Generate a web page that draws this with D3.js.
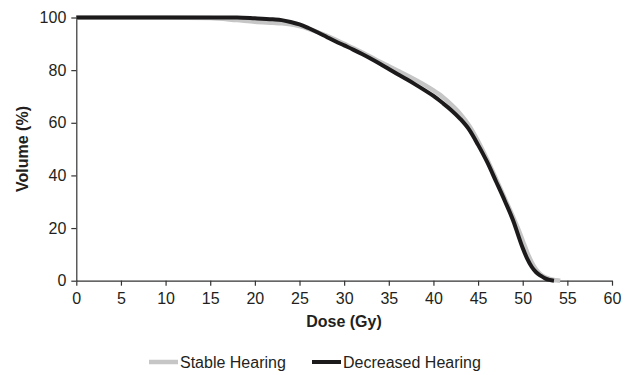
<!DOCTYPE html>
<html><head><meta charset="utf-8">
<script src="https://cdn.jsdelivr.net/npm/d3@7"></script>
<style>body{margin:0;background:#fff}svg{display:block}text{font-family:"Liberation Sans",Arial,sans-serif;fill:#231f20}</style>
</head><body>
<svg id="c" width="628" height="375"></svg>
<script>
const xTicks = [0,5,10,15,20,25,30,35,40,45,50,55,60];
const yTicks = [0,20,40,60,80,100];
const seriesNames = ["Stable Hearing","Decreased Hearing"];
const stableDose = [0,5,10,15,18,20,22,23,24,25,26,27,28,29,30,31,32,33,34,35,36,37,38,39,40,41,42,43,44,45,46,47,48,49,49.5,50,50.5,51,51.5,52,52.5,53,53.5,54,54.2];
const stableVol  = [100,100,100,99.8,99,98.4,98,97.8,97.4,96.7,95.7,94.5,93.1,91.6,90,88.4,86.7,85,83.2,81.5,79.8,78.1,76.3,74.4,72.3,69.9,66.9,63.4,58.9,53,46.2,38.8,31.2,23.6,19.6,15.2,10.8,7,4.2,2.4,1.3,0.7,0.3,0.1,0];
const decDose = [0,5,10,15,18,20,22,23,24,25,26,27,28,29,30,31,32,33,34,35,36,37,38,39,40,41,42,43,44,45,46,47,48,49,49.5,50,50.5,51,51.5,52,52.5,53,53.5];
const decVol  = [100,100,100,100,100,99.7,99.3,99,98.3,97.4,96,94.4,92.7,91,89.4,87.8,86.1,84.3,82.4,80.4,78.4,76.5,74.5,72.4,70.2,67.6,64.8,61.5,57.4,51.6,45.2,37.8,30.3,22.2,17.2,12.4,8.4,5.3,3.2,1.9,0.9,0.3,0];

const svg = d3.select("#c");
const x = d3.scaleLinear().domain([0,60]).range([76.3,612]);
const y = d3.scaleLinear().domain([0,100]).range([280.7,17.5]);

const gx = svg.append("g").attr("transform",`translate(0,${y(0)})`)
  .call(d3.axisBottom(x).tickValues(xTicks).tickSize(5).tickPadding(7).tickSizeOuter(0));
const gy = svg.append("g").attr("transform",`translate(${x(0)},0)`)
  .call(d3.axisLeft(y).tickValues(yTicks).tickSize(5).tickPadding(5).tickSizeOuter(0));
[gx,gy].forEach(g=>{
  g.selectAll("path,line").attr("stroke","#333").attr("stroke-width",1.2);
  g.selectAll("text").attr("font-size",16).attr("fill","#231f20").style("font-family","'Liberation Sans',Arial,sans-serif");
});

const line = d3.line().x(d=>x(d[0])).y(d=>y(d[1])).curve(d3.curveMonotoneX);
const stable = stableDose.map((d,i)=>[d,stableVol[i]]);
const dec = decDose.map((d,i)=>[d,decVol[i]]);
svg.append("path").datum(stable).attr("d",line).attr("fill","none").attr("stroke","#c6c6c6").attr("stroke-width",4.5).attr("stroke-linejoin","round");
svg.append("path").datum(dec).attr("d",line).attr("fill","none").attr("stroke","#1c1a1b").attr("stroke-width",4).attr("stroke-linejoin","round");

svg.append("text").attr("x",344).attr("y",327).attr("text-anchor","middle").attr("font-size",16).attr("font-weight","bold").text("Dose (Gy)");
svg.append("text").attr("transform",`translate(28,149) rotate(-90)`).attr("text-anchor","middle").attr("font-size",16).attr("font-weight","bold").text("Volume (%)");

const leg = [{name:seriesNames[0],c:"#c6c6c6",x0:149,w:4.5},{name:seriesNames[1],c:"#1c1a1b",x0:312,w:4}];
leg.forEach(l=>{
  svg.append("line").attr("x1",l.x0).attr("x2",l.x0+29).attr("y1",362).attr("y2",362).attr("stroke",l.c).attr("stroke-width",l.w);
  svg.append("text").attr("x",l.x0+31).attr("y",368).attr("font-size",16).text(l.name);
});
</script>
</body></html>
